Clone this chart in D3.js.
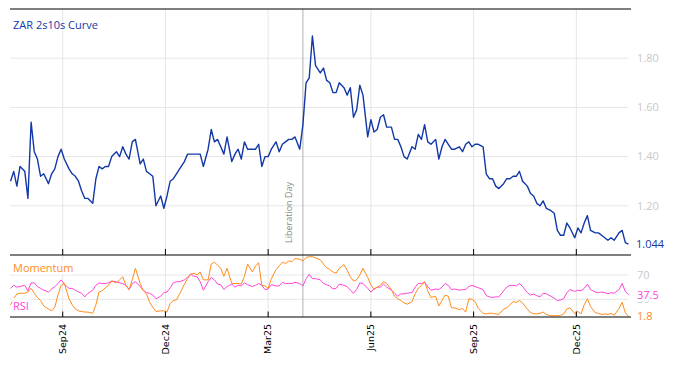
<!DOCTYPE html>
<html><head><meta charset="utf-8">
<script src="https://cdn.jsdelivr.net/npm/d3@7"></script>
<style>body{margin:0;background:#fff} svg{display:block}</style>
</head><body><svg id="c" width="674" height="366"></svg>
<script>
const curve = [1.30,1.34,1.28,1.36,1.34,1.23,1.54,1.42,1.39,1.32,1.33,1.29,1.33,1.35,1.40,1.43,1.39,1.35,1.33,1.32,
1.30,1.26,1.23,1.23,1.21,1.31,1.36,1.35,1.36,1.36,1.40,1.42,1.40,1.44,1.41,1.39,1.46,1.47,1.37,1.39,
1.34,1.33,1.32,1.20,1.24,1.19,1.24,1.30,1.31,1.33,1.35,1.38,1.41,1.41,1.41,1.41,1.41,1.36,1.43,1.51,
1.46,1.47,1.44,1.41,1.48,1.38,1.41,1.43,1.39,1.46,1.43,1.43,1.43,1.45,1.36,1.40,1.40,1.43,1.46,1.42,
1.45,1.46,1.47,1.47,1.48,1.43,1.53,1.70,1.72,1.89,1.77,1.74,1.76,1.71,1.70,1.66,1.66,1.70,1.68,1.65,
1.68,1.56,1.59,1.69,1.65,1.48,1.55,1.50,1.51,1.56,1.57,1.52,1.52,1.47,1.47,1.44,1.40,1.39,1.44,1.43,
1.49,1.47,1.53,1.46,1.45,1.47,1.39,1.44,1.47,1.45,1.43,1.43,1.44,1.42,1.45,1.46,1.44,1.45,1.45,1.44,
1.33,1.31,1.31,1.28,1.27,1.29,1.31,1.31,1.32,1.32,1.34,1.30,1.28,1.25,1.24,1.21,1.20,1.22,1.19,1.18,
1.17,1.10,1.08,1.08,1.13,1.11,1.07,1.11,1.09,1.13,1.16,1.10,1.09,1.09,1.08,1.07,1.06,1.07,1.06,1.09,
1.10,1.05,1.044];
const momentum = [21,31,39,40,40,42,48,40,33,28,19,14,11,17,37,53,56,31,21,14,
11,10,9,9,7,21,42,44,49,53,60,57,62,67,53,46,62,81,56,44,
39,25,17,10,11,11,9,23,28,29,39,55,64,71,73,70,75,62,62,88,
91,86,81,68,81,56,56,56,55,68,88,75,85,90,53,52,48,64,79,85,
91,89,93,92,97,96,93,99,100,100,98,95,88,82,79,75,73,81,87,78,
67,60,62,70,81,66,54,46,50,53,59,56,46,35,31,28,24,22,26,39,
48,53,59,44,33,35,19,28,37,35,16,16,13,15,9,31,30,26,15,7,
6,7,7,6,5,14,16,21,26,25,28,24,14,8,6.5,6,7,9,5,3,
3,3,3.5,6,14,16,6.5,10,6,21,31,18,8,7,5,6,5,7,3.5,15,
25,8,1.8];
const rsi = [48,53,50,51,53,44,57,57,51,48,45,42,47,51,56,62,55,48,48,45,
42,40,34,40,45,53,57,56,56,57,60,59,57,56,53,46,56,59,51,45,
41,40,37,31,35,41,42,49,57,59,59,62,66,72,68,67,59,45,59,66,
62,55,54,46,51,55,50,53,52,57,54,51,53,56,53,46,47,54,52,52,
58,56,56,56,58,56,52,64,71,64,64,62,56,54,52,47,48,55,53,51,
45,40,46,57,56,48,42,47,50,50,55,50,45,40,35,39,39,40,41,50,
56,56,58,51,45,47,46,50,56,53,46,47,45,46,46,51,53,51,49,46,
36,34,33,34,34,44,50,53,53,52,56,51,41,37,38.5,36,34,40,39,35,
32,28,29,31,41,46,43,45,44,48,55,46,42,41,42,41,39,41,40,46,
56,43,37.5];
const startDate = "2024-07-17", endDate = "2026-01-15";
const tickMonths = ["2024-09-01","2024-12-01","2025-03-01","2025-06-01","2025-09-01","2025-12-01"];
const tickLabels = ["Sep24","Dec24","Mar25","Jun25","Sep25","Dec25"];
const curveTicks = [1.2,1.4,1.6,1.8];
const oscTicks = [30,70];
const eventDate = "2025-04-02", eventLabel = "Liberation Day";
const title = "ZAR 2s10s Curve";

// ---- business-day calendar (x axis skips weekends) ----
const bdays = d3.utcDays(new Date(startDate), d3.utcDay.offset(new Date(endDate), 1))
  .filter(d => d.getUTCDay() % 6 !== 0);
const nB = bdays.length;
const bIndex = s => d3.bisectLeft(bdays, new Date(s));
const sampleIdx = curve.map((_, i) => Math.round(i * (nB - 1) / (curve.length - 1)));

const BLUE = "#1238a8", ORANGE = "#ff8c1a", MAGENTA = "#ff44d8", GRID = "#e6e6e6", LBL = "#c8c8c8";
const FONT = "'Open Sans', sans-serif";

const svg = d3.select("#c");
const x = d3.scaleLinear().domain([-0.35, 392.6]).range([10, 631]);
const yT = d3.scaleLinear().domain([1, 2]).range([255, 9]);
const yB = d3.scaleLinear().domain([0.9, 102.9]).range([317, 255]);

const L = 10, R = 631, GR = 628;

// horizontal grids
svg.append("g").selectAll("line").data(curveTicks).join("line")
  .attr("x1", L).attr("x2", GR).attr("y1", d => yT(d)).attr("y2", d => yT(d))
  .attr("stroke", GRID).attr("stroke-width", 1);
svg.append("g").selectAll("line").data(oscTicks).join("line")
  .attr("x1", L).attr("x2", GR).attr("y1", d => yB(d)).attr("y2", d => yB(d))
  .attr("stroke", GRID).attr("stroke-width", 1);

// vertical grids
const tickX = tickMonths.map(m => x(bIndex(m)));
svg.append("g").selectAll("line").data(tickX).join("line")
  .attr("x1", d => d).attr("x2", d => d).attr("y1", 9).attr("y2", 317)
  .attr("stroke", GRID).attr("stroke-width", 1);

// event line
const ex = x(bIndex(eventDate));
svg.append("line").attr("x1", ex).attr("x2", ex).attr("y1", 9).attr("y2", 317)
  .attr("stroke", "#b0b0b0").attr("stroke-width", 1);
svg.append("text").attr("transform", `translate(${ex - 11},243) rotate(-90)`)
  .attr("font-family", FONT).attr("font-size", 9).attr("fill", "#8a8a8a").text(eventLabel);

// lines
const lineT = d3.line().x((d, i) => x(sampleIdx[i])).y(d => yT(d));
const lineB = d3.line().x((d, i) => x(sampleIdx[i])).y(d => yB(d));
svg.append("path").attr("d", lineB(rsi)).attr("fill", "none").attr("stroke", MAGENTA).attr("stroke-width", 1);
svg.append("path").attr("d", lineB(momentum)).attr("fill", "none").attr("stroke", ORANGE).attr("stroke-width", 1);
svg.append("path").attr("d", lineT(curve)).attr("fill", "none").attr("stroke", BLUE).attr("stroke-width", 1.4)
  .attr("stroke-linejoin", "round");

// axes lines
[9, 255, 317].forEach(yy => svg.append("line").attr("x1", L).attr("x2", R).attr("y1", yy).attr("y2", yy)
  .attr("stroke", "#000").attr("stroke-width", 1.2));
// ticks (inward / upward)
svg.append("g").selectAll("line").data(tickX).join("line")
  .attr("x1", d => d).attr("x2", d => d).attr("y1", 249).attr("y2", 255).attr("stroke", "#000");
svg.append("g").selectAll("line").data(tickX).join("line")
  .attr("x1", d => d).attr("x2", d => d).attr("y1", 311.5).attr("y2", 317).attr("stroke", "#000");

// x tick labels
svg.append("g").selectAll("text").data(tickLabels).join("text")
  .attr("transform", (d, i) => `translate(${tickX[i] + 3.3},324) rotate(-90)`)
  .attr("text-anchor", "end").attr("font-family", "'DejaVu Sans', sans-serif").attr("font-size", 9.5)
  .attr("fill", "#000").text(d => d);

function label(txt, xx, yy, color, bg, size) {
  const g = svg.append("g");
  const t = g.append("text").attr("x", xx).attr("y", yy).attr("dy", "0.35em")
    .attr("font-family", FONT).attr("font-size", size || 11).attr("fill", color).text(txt);
  if (bg) {
    const b = t.node().getBBox();
    g.insert("rect", "text").attr("x", b.x - 1).attr("y", b.y).attr("width", b.width + 2).attr("height", b.height)
      .attr("fill", "rgba(255,255,255,0.8)");
  }
  return g;
}

// left labels
label(title, 13, 25, BLUE, false);
label("Momentum", 13, 268, ORANGE, true);
label("RSI", 13, 306, MAGENTA, true);

// right labels
curveTicks.forEach(v => label(d3.format(".2f")(v), 637, yT(v), LBL, false));
label(d3.format(".3f")(curve[curve.length - 1]), 636, yT(curve[curve.length - 1]), BLUE, true);
oscTicks.forEach(v => label(String(v), 637, yB(v), LBL, false));
label(String(rsi[rsi.length - 1]), 637, yB(rsi[rsi.length - 1]), MAGENTA, true);
label(String(momentum[momentum.length - 1]), 637, yB(momentum[momentum.length - 1]), ORANGE, true);
</script></body></html>
